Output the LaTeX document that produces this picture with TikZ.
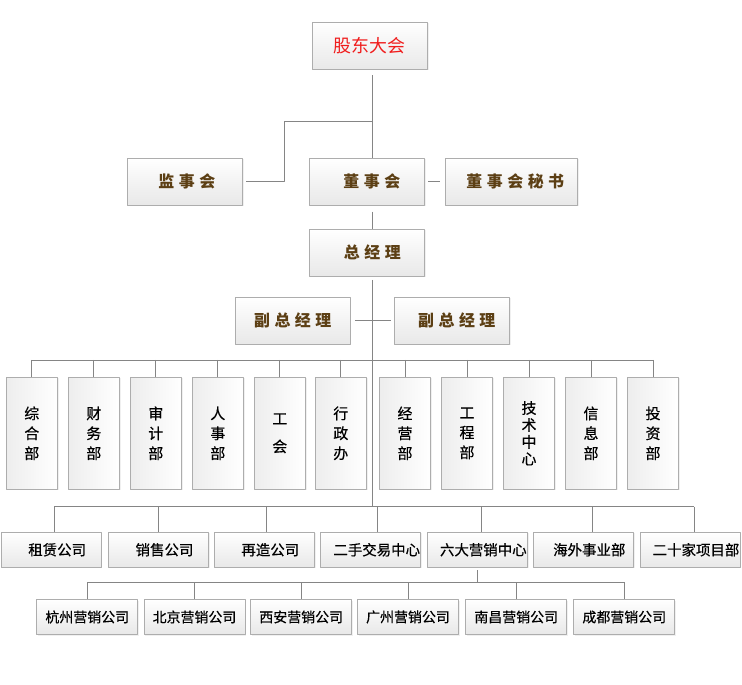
\documentclass[tikz,border=0pt]{standalone}
\usepackage{fontspec}
\setmainfont{Noto Sans CJK SC}
\newfontfamily\boxfont[FakeBold=0.5]{Noto Sans CJK SC}
\usetikzlibrary{shadows}
\definecolor{titlebrown}{HTML}{5C3F14}
\definecolor{titlered}{HTML}{F01C1C}
\newcommand\chargap{\hspace{4.5bp}}
\begin{document}
\begin{tikzpicture}[>=latex,line join=bevel,
  link/.style={draw=black!48,line width=0.8bp},
  boxbase/.style={draw=black!32,line width=0.8bp,inner sep=0pt,
    drop shadow={shadow xshift=1.2bp,shadow yshift=-1.2bp,opacity=0.12}},
  headbox/.style={boxbase,top color=white,bottom color=black!9,
    minimum height=47bp,text=titlebrown,font=\fontsize{16}{18}\selectfont\bfseries},
  textright/.style={execute at begin node={\hspace*{#1}}},
  deptbox/.style={boxbase,left color=black!7,right color=white,
    minimum width=51.3bp,minimum height=112bp,align=center,
    font=\boxfont\fontsize{15}{20}\selectfont},
  subbox/.style={boxbase,top color=white,bottom color=black!9,
    minimum width=100bp,minimum height=35bp,font=\boxfont\fontsize{14.5}{17}\selectfont,
    textright=12bp},
  marketbox/.style={boxbase,top color=white,bottom color=black!9,
    minimum width=101bp,minimum height=35bp,font=\boxfont\fontsize{14}{17}\selectfont},
]
\useasboundingbox (0bp,0bp) rectangle (742bp,685bp);
%%
\node (node_gudong) at (369.8bp,639.2bp) [headbox,minimum width=115bp,text=titlered,font=\fontsize{18}{20}\selectfont] {股东大会};
  \node (node_jianshi) at (184.8bp,503.3bp) [headbox,minimum width=115bp,textright=4bp] {监\chargap 事\chargap 会};
  \node (node_dongshi) at (366.8bp,503.3bp) [headbox,minimum width=115bp,textright=10bp] {董\chargap 事\chargap 会};
  \node (node_mishu) at (511.3bp,503.3bp) [headbox,minimum width=132bp,textright=8bp] {董\chargap 事\chargap 会\chargap 秘\chargap 书};
  \node (node_zongjingli) at (366.8bp,432.3bp) [headbox,minimum width=115bp,textright=11bp] {总\chargap 经\chargap 理};
  \node (node_fuzong_1) at (292.7bp,364.3bp) [headbox,minimum width=115bp] {副\chargap 总\chargap 经\chargap 理};
  \node (node_fuzong_2) at (451.8bp,364.3bp) [headbox,minimum width=115bp,textright=10bp] {副\chargap 总\chargap 经\chargap 理};
%
\node (node_zonghe) at (31.8bp,251.7bp) [deptbox] {综\\合\\部};
  \node (node_caiwu) at (93.8bp,251.7bp) [deptbox] {财\\务\\部};
  \node (node_shenji) at (155.8bp,251.7bp) [deptbox] {审\\计\\部};
  \node (node_renshi) at (217.8bp,251.7bp) [deptbox] {人\\事\\部};
  \node (node_gonghui) at (279.8bp,251.7bp) [deptbox] {工\\[8bp]会};
  \node (node_xingzheng) at (340.8bp,251.7bp) [deptbox] {行\\政\\办};
  \node (node_jingying) at (405.0bp,251.7bp) [deptbox] {经\\营\\部};
  \node (node_gongcheng) at (467.0bp,251.7bp) [deptbox] {工\\程\\部};
  \node (node_jishu) at (529.0bp,251.7bp) [deptbox,font=\boxfont\fontsize{15}{17}\selectfont] {技\\术\\中\\心};
  \node (node_xinxi) at (591.0bp,251.7bp) [deptbox] {信\\息\\部};
  \node (node_touzi) at (653.0bp,251.7bp) [deptbox] {投\\资\\部};
%
\node (node_zulin) at (51.2bp,135.2bp) [subbox] {租赁公司};
  \node (node_xiaoshou) at (158.5bp,135.2bp) [subbox] {销售公司};
  \node (node_zaizao) at (264.3bp,135.2bp) [subbox] {再造公司};
  \node (node_ershou) at (370.7bp,135.2bp) [subbox] {二手交易中心};
  \node (node_liuda) at (477.3bp,135.2bp) [subbox] {六大营销中心};
  \node (node_haiwai) at (583.3bp,135.2bp) [subbox] {海外事业部};
  \node (node_ershijia) at (690.0bp,135.2bp) [subbox] {二十家项目部};
%
\node (node_hangzhou) at (87.3bp,68.0bp) [marketbox] {杭州营销公司};
  \node (node_beijing) at (194.5bp,68.0bp) [marketbox] {北京营销公司};
  \node (node_xian) at (301.2bp,68.0bp) [marketbox] {西安营销公司};
  \node (node_guangzhou) at (408.0bp,68.0bp) [marketbox] {广州营销公司};
  \node (node_nanchang) at (516.2bp,68.0bp) [marketbox] {南昌营销公司};
  \node (node_chengdu) at (624.3bp,68.0bp) [marketbox] {成都营销公司};
%%
\coordinate (trunk) at (372.3bp,0bp);
\coordinate (fork) at (372.3bp,564bp);
\coordinate (bend) at (284.3bp,564bp);
\coordinate (bar_dept) at (0bp,325bp);
\coordinate (bar_sub) at (0bp,178.3bp);
\coordinate (bar_market) at (0bp,102.7bp);
%
\draw [link] ([yshift=-5.7bp]node_gudong.south -| trunk) -- (node_dongshi.north -| trunk);
  \draw [link] (fork) -- (bend) |- ([xshift=3.7bp]node_jianshi.east);
  \draw [link] ([xshift=3.7bp]node_dongshi.east) -- ([xshift=-4.6bp]node_mishu.west);
  \draw [link] ([yshift=-6bp]node_dongshi.south -| trunk) -- (node_zongjingli.north -| trunk);
  \draw [link] ([yshift=-3.3bp]node_zongjingli.south -| trunk) -- (trunk |- bar_sub);
  \draw [link] ([xshift=4.3bp]node_fuzong_1.east) -- ([xshift=-2.6bp]node_fuzong_2.west);
%
\draw [link] (node_zonghe.north |- bar_dept) -- (node_touzi.north |- bar_dept);
  \draw [link] (node_zonghe.north |- bar_dept) -- (node_zonghe.north);
  \draw [link] (node_caiwu.north |- bar_dept) -- (node_caiwu.north);
  \draw [link] (node_shenji.north |- bar_dept) -- (node_shenji.north);
  \draw [link] (node_renshi.north |- bar_dept) -- (node_renshi.north);
  \draw [link] (node_gonghui.north |- bar_dept) -- (node_gonghui.north);
  \draw [link] (node_xingzheng.north |- bar_dept) -- (node_xingzheng.north);
  \draw [link] (node_jingying.north |- bar_dept) -- (node_jingying.north);
  \draw [link] (node_gongcheng.north |- bar_dept) -- (node_gongcheng.north);
  \draw [link] (node_jishu.north |- bar_dept) -- (node_jishu.north);
  \draw [link] (node_xinxi.north |- bar_dept) -- (node_xinxi.north);
  \draw [link] (node_touzi.north |- bar_dept) -- (node_touzi.north);
%
\draw [link] ([xshift=3bp]node_zulin.north |- bar_sub) -- ([xshift=4bp]node_ershijia.north |- bar_sub);
  \draw [link] ([xshift=3bp]node_zulin.north |- bar_sub) -- ([xshift=3bp]node_zulin.north);
  \draw [link] (node_xiaoshou.north |- bar_sub) -- (node_xiaoshou.north);
  \draw [link] ([xshift=2bp]node_zaizao.north |- bar_sub) -- ([xshift=2bp]node_zaizao.north);
  \draw [link] ([xshift=7bp]node_ershou.north |- bar_sub) -- ([xshift=7bp]node_ershou.north);
  \draw [link] ([xshift=4bp]node_liuda.north |- bar_sub) -- ([xshift=4bp]node_liuda.north);
  \draw [link] ([xshift=9bp]node_haiwai.north |- bar_sub) -- ([xshift=9bp]node_haiwai.north);
  \draw [link] ([xshift=4bp]node_ershijia.north |- bar_sub) -- ([xshift=4bp]node_ershijia.north);
%
\draw [link] ([yshift=-2.7bp]node_liuda.south) -- (node_liuda.south |- bar_market);
  \draw [link] (node_hangzhou.north |- bar_market) -- (node_chengdu.north |- bar_market);
  \draw [link] (node_hangzhou.north |- bar_market) -- (node_hangzhou.north);
  \draw [link] (node_beijing.north |- bar_market) -- (node_beijing.north);
  \draw [link] (node_xian.north |- bar_market) -- (node_xian.north);
  \draw [link] (node_guangzhou.north |- bar_market) -- (node_guangzhou.north);
  \draw [link] (node_nanchang.north |- bar_market) -- (node_nanchang.north);
  \draw [link] (node_chengdu.north |- bar_market) -- (node_chengdu.north);
%
\end{tikzpicture}
\end{document}
